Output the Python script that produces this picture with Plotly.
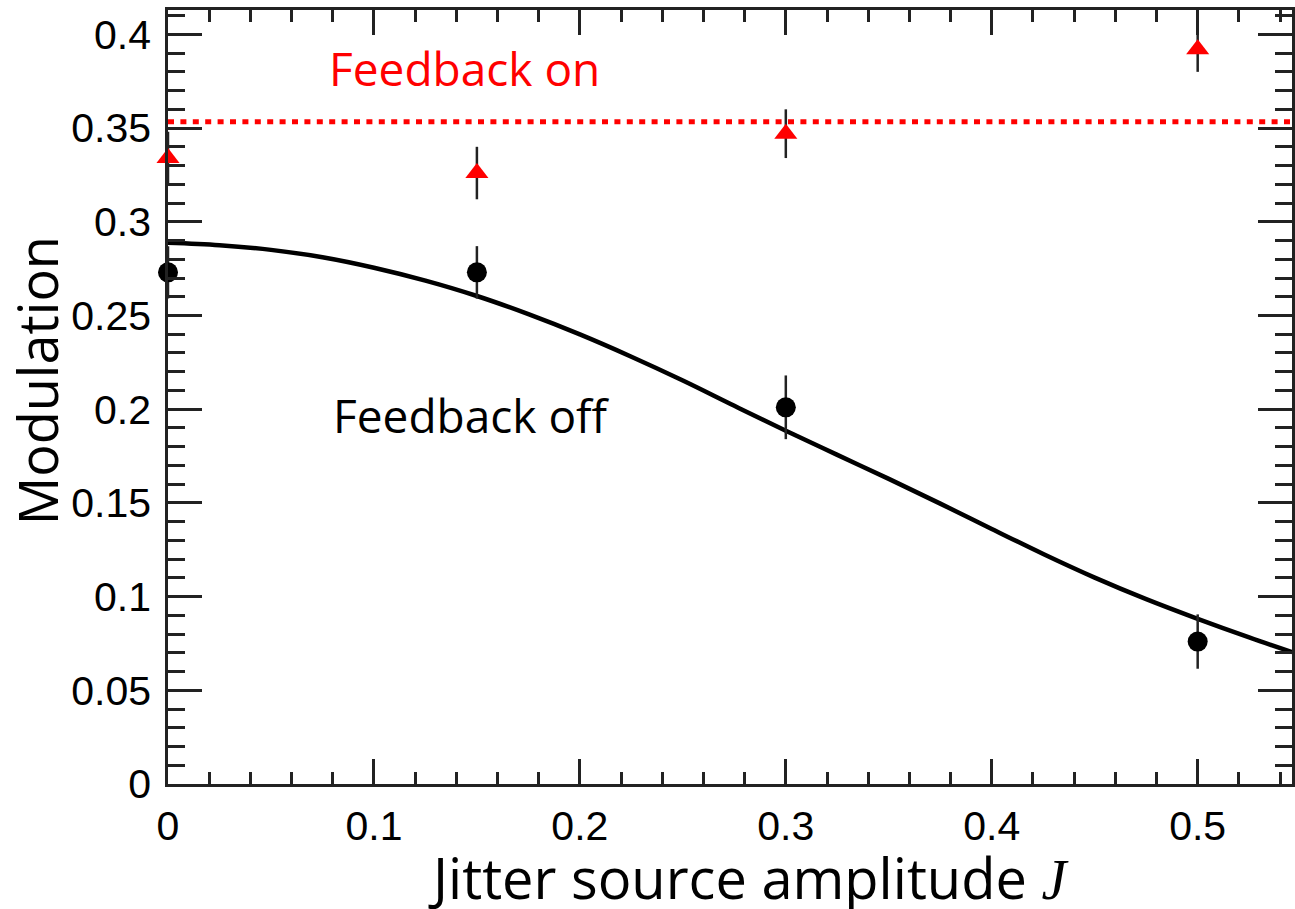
import plotly.graph_objects as go

# ---- data ----
jitter = [0.0, 0.15, 0.30, 0.50]
mod_off = [0.273, 0.273, 0.201, 0.076]
err_off = [0.014, 0.014, 0.017, 0.0145]
mod_on = [0.334, 0.326, 0.347, 0.392]
err_on = [0.014, 0.014, 0.013, 0.012]

feedback_on_level = 0.3534

fit_x = [0.0, 0.025, 0.05, 0.075, 0.1, 0.125, 0.15, 0.175, 0.2, 0.225, 0.25,
         0.275, 0.3, 0.325, 0.35, 0.375, 0.4, 0.425, 0.45, 0.475, 0.5, 0.525, 0.5458]
fit_y = [0.2888, 0.2875, 0.2850, 0.2811, 0.2755, 0.2686, 0.2604, 0.2507, 0.2399,
         0.2280, 0.2153, 0.2018, 0.1885, 0.1756, 0.1628, 0.1496, 0.1361, 0.1227,
         0.1101, 0.0986, 0.0881, 0.0782, 0.0704]

x_range = [0, 0.5458]
y_range = [0, 0.413]

fig = go.Figure()

# feedback on reference level (dotted red line)
fig.add_trace(go.Scatter(
    x=x_range, y=[feedback_on_level, feedback_on_level], mode="lines",
    line=dict(color="#ff0000", width=5, dash="6px,6.4px"),
    hoverinfo="skip", showlegend=False))

# fit curve
fig.add_trace(go.Scatter(
    x=fit_x, y=fit_y, mode="lines", line=dict(color="black", width=4.5, shape="spline"),
    showlegend=False))

# feedback off points
fig.add_trace(go.Scatter(
    x=jitter, y=mod_off, mode="markers",
    marker=dict(symbol="circle", size=20, color="black"),
    error_y=dict(type="data", array=err_off, color="#222", thickness=2.5, width=0),
    cliponaxis=False, showlegend=False))

# feedback on points
fig.add_trace(go.Scatter(
    x=jitter, y=mod_on, mode="markers",
    marker=dict(symbol="triangle-up", size=20, color="#ff0000"),
    error_y=dict(type="data", array=err_on, color="#222", thickness=2.5, width=0),
    cliponaxis=False, showlegend=False))

tickfont = dict(family="Liberation Sans, Arial, sans-serif", size=41, color="black")

fig.update_xaxes(
    range=x_range, showgrid=False, zeroline=False,
    showline=True, linecolor="#222", linewidth=2.5, mirror="ticks",
    ticks="inside", ticklen=25, tickwidth=2.5, tickcolor="#222",
    tick0=0, dtick=0.1, tickformat="~g", tickfont=tickfont,
    ticklabelstandoff=4,
    minor=dict(ticks="inside", dtick=0.02, ticklen=12, tickwidth=2.5, tickcolor="#222"))

fig.update_yaxes(
    range=y_range, showgrid=False, zeroline=False,
    showline=True, linecolor="#222", linewidth=2.5, mirror="ticks",
    ticks="inside", ticklen=34, tickwidth=2.5, tickcolor="#222",
    tick0=0, dtick=0.05, tickformat="~g", tickfont=tickfont,
    ticklabelstandoff=6,
    minor=dict(ticks="inside", dtick=0.01, ticklen=17, tickwidth=2.5, tickcolor="#222"))

textfont = "Open Sans, Noto Sans, sans-serif"
fig.add_annotation(x=0.1441, y=0.382, xref="x", yref="y", text="Feedback on",
                   showarrow=False, font=dict(family=textfont, size=46, color="#ff0000"))
fig.add_annotation(x=0.1473, y=0.197, xref="x", yref="y", text="Feedback off",
                   showarrow=False, font=dict(family=textfont, size=46, color="black"))

# axis titles
fig.add_annotation(x=(750 - 168) / 1127, y=-(877 - 784) / 774, xref="paper", yref="paper",
                   text="Jitter source amplitude <span style='font-family:Liberation Serif'><i>J</i></span>",
                   showarrow=False, font=dict(family=textfont, size=56, color="black"),
                   xanchor="center", yanchor="middle")
fig.add_annotation(x=(37 - 168) / 1127, y=(784 - 381) / 774, xref="paper", yref="paper",
                   text="Modulation", textangle=-90,
                   showarrow=False, font=dict(family=textfont, size=54, color="black"),
                   xanchor="center", yanchor="middle")

fig.update_layout(
    width=1295, height=909,
    margin=dict(l=168, r=0, t=10, b=125),
    paper_bgcolor="white", plot_bgcolor="white",
    showlegend=False)

fig.write_html("out.html")
